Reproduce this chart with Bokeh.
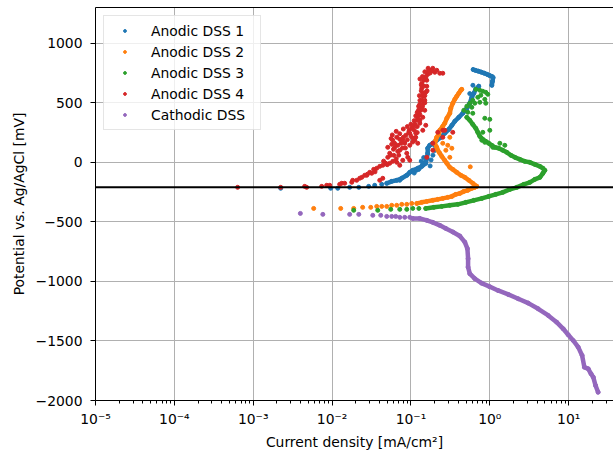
from bokeh.plotting import figure
from bokeh.models import FixedTicker, CustomJSTickFormatter, Span, LogAxis
from bokeh.embed import file_html
from bokeh.resources import INLINE

# ---------------- data ----------------
series_names = ["Anodic DSS 1", "Anodic DSS 2", "Anodic DSS 3", "Anodic DSS 4", "Cathodic DSS"]
series_colors = ["#1f77b4", "#ff7f0e", "#2ca02c", "#d62728", "#9467bd"]
ocp_line_mv = -210

# Anodic DSS 1
dss1_sparse_x = [0.00223, 0.0096, 0.0118, 0.0167, 0.0218, 0.0291, 0.0347, 0.0426]
dss1_sparse_y = [-218, -218, -218, -210, -210, -202, -193, -185]
dss1_dense_x = [0.0493, 0.0570, 0.0660, 0.0764, 0.0885, 0.0966, 0.1054, 0.122, 0.137, 0.154, 0.159,
                0.163, 0.163, 0.173, 0.189, 0.212, 0.239, 0.268, 0.302, 0.330, 0.360, 0.404, 0.454,
                0.511, 0.557, 0.591, 0.627, 0.664, 0.725]
dss1_dense_y = [-176, -160, -151, -134, -109, -84, -67, -50, -34, -8, 34,
                76, 118, 143, 160, 185, 210, 244, 277, 311, 345, 378, 412,
                454, 496, 546, 580, 613, 639]
dss1_top_x = [0.614, 0.66, 0.72, 0.78, 0.85, 0.93, 1.0, 1.07, 1.10, 1.08, 1.06]
dss1_top_y = [779, 772, 765, 757, 748, 738, 728, 720, 712, 680, 647]
dss1_extra_x = [0.14, 0.18, 0.19, 0.20, 0.145, 0.175, 0.20, 0.13, 0.117, 0.072, 0.61, 0.557,
                0.15, 0.135, 0.125, 0.11]
dss1_extra_y = [-20, 20, 60, 100, 40, -30, 140, -45, -67, -151, 647, 577,
                0, 10, -60, -90]

# Anodic DSS 2
dss2_sparse_x = [0.00584, 0.01286, 0.0188, 0.0244, 0.0309, 0.0368, 0.0426, 0.0493, 0.0570,
                 0.0660, 0.0764, 0.0885, 0.1023]
dss2_sparse_y = [-387, -387, -387, -378, -378, -370, -370, -370, -361, -361, -353, -353, -345]
dss2_dense_x = [0.1185, 0.137, 0.159, 0.189, 0.219, 0.253, 0.293, 0.330, 0.371, 0.416, 0.468,
                0.526, 0.591, 0.645, 0.684, 0.608, 0.542, 0.482, 0.429, 0.381, 0.339, 0.311,
                0.285, 0.268, 0.246, 0.232, 0.219, 0.212, 0.200, 0.206, 0.212, 0.225, 0.232,
                0.253, 0.268, 0.285, 0.311, 0.320, 0.339, 0.360, 0.381, 0.404, 0.429, 0.441]
dss2_dense_y = [-345, -336, -328, -319, -311, -303, -294, -286, -269, -261, -244,
                -235, -218, -210, -202, -176, -151, -126, -109, -84, -59, -42,
                -8, 17, 50, 76, 101, 126, 160, 185, 210, 235, 269,
                303, 328, 370, 412, 454, 496, 529, 555, 580, 605, 613]
dss2_extra_x = [0.253, 0.293, 0.330, 0.311, 0.565, 0.277, 0.311]
dss2_extra_y = [160, 143, 118, 42, -38, 101, 210]

# Anodic DSS 3
dss3_sparse_x = [0.0188, 0.0379, 0.0554, 0.0721, 0.0885, 0.1054, 0.126]
dss3_sparse_y = [-403, -403, -395, -395, -395, -387, -387]
dss3_dense_x = [0.154, 0.195, 0.246, 0.311, 0.393, 0.496, 0.627, 0.792, 0.971, 1.19, 1.46,
                1.80, 2.20, 2.70, 3.22, 3.72, 4.31, 4.71, 4.99, 4.71, 4.31, 3.72, 3.22,
                2.78, 2.40, 2.08, 1.85, 1.64, 1.46, 1.30, 1.157, 1.06, 0.971, 0.889,
                0.815, 0.747, 0.704, 0.664, 0.608, 0.557, 0.511]
dss3_dense_y = [-387, -378, -370, -361, -353, -336, -319, -303, -286, -269, -252,
                -227, -210, -185, -168, -143, -126, -92, -67, -50, -34, -17, 0,
                8, 25, 42, 59, 84, 101, 118, 126, 143, 160, 176,
                193, 218, 252, 286, 319, 353, 378]
dss3_extra_x = [0.664, 0.747, 0.815, 0.889, 0.943, 0.769, 0.704, 0.864, 0.608, 0.557, 0.645,
                0.747, 0.511, 0.591, 0.468, 0.526, 0.608, 0.864, 1.0, 0.815, 1.34, 1.55,
                0.889, 1.0, 0.792, 0.864, 1.09]
dss3_extra_y = [613, 605, 597, 588, 571, 563, 546, 529, 521, 496, 496,
                504, 471, 462, 437, 420, 412, 370, 361, 252, 160, 143,
                496, 269, 185, 168, 126]

# Anodic DSS 4
dss4_x = [0.000634, 0.00223, 0.00449, 0.00476, 0.00738, 0.00854, 0.00933, 0.01248, 0.01324,
          0.01445, 0.01774, 0.01825, 0.0205, 0.0224, 0.0238, 0.0259, 0.0275, 0.0300, 0.0318,
          0.0337, 0.0368, 0.0402, 0.0439, 0.0402, 0.0439, 0.0479, 0.0538, 0.0587, 0.0660,
          0.0721, 0.0787, 0.0508, 0.0538, 0.0605, 0.0680, 0.0721, 0.0508, 0.0570, 0.0623,
          0.0587, 0.0660, 0.0721, 0.0787, 0.0834, 0.0885, 0.0911, 0.0966, 0.0859, 0.0938,
          0.0966, 0.1023, 0.1054, 0.1117, 0.1185, 0.1220, 0.1294, 0.1256, 0.1332, 0.1371,
          0.1454, 0.1371, 0.1497, 0.1412, 0.1412, 0.1371, 0.1371, 0.1454, 0.1587, 0.1497,
          0.1634, 0.1634, 0.1733, 0.1892, 0.2005, 0.2125, 0.2318, 0.2533, 0.1412, 0.1497,
          0.1412, 0.1587, 0.1892, 0.1892, 0.2188, 0.2533, 0.2685, 0.2533, 0.3390, 0.1220,
          0.1054, 0.1151, 0.1541, 0.1294, 0.1541, 0.1587, 0.1294, 0.1117, 0.0966, 0.0680,
          0.13, 0.135, 0.145, 0.15, 0.14, 0.13, 0.12, 0.11, 0.10, 0.08, 0.075, 0.06, 0.055,
          0.065, 0.085, 0.09, 0.155, 0.17, 0.185, 0.16, 0.15, 0.125, 0.045, 0.035, 0.028, 0.05,
          0.058, 0.065, 0.072, 0.08, 0.09, 0.062, 0.07, 0.078, 0.056, 0.095, 0.10, 0.11, 0.115,
          0.12, 0.125, 0.13, 0.128, 0.135, 0.14, 0.15, 0.165, 0.175, 0.12, 0.115, 0.105]
dss4_y = [-210, -210, -202, -210, -202, -193, -193, -185, -176,
          -176, -168, -151, -151, -134, -126, -109, -109, -84, -92,
          -59, -50, -151, -134, -34, -25, -8, -8, 8, 0,
          -25, 17, 42, 76, 59, 92, 101, 126, 151, 126,
          185, 210, 193, 185, 160, 76, 42, 17, 227, 252,
          244, 286, 294, 319, 353, 378, 328, 412, 437, 462,
          496, 521, 521, 555, 580, 622, 664, 689, 689, 714,
          739, 756, 773, 790, 756, 773, 748, 748, 378, 437,
          269, 42, 101, 160, 252, 269, 269, 210, 252, 160,
          202, 244, 311, 487, 588, 639, 353, 185, 143, 143,
          700, 600, 640, 560, 470, 400, 300, 270, 220, 210, 160, 110, 60,
          30, 120, 190, 720, 760, 770, 600, 500, 440, 10, -80, -100, -20,
          230, 260, 240, 280, 300, 160, 60, 120, 200, 270, 320, 350, 390,
          420, 470, 520, 560, 650, 720, 760, 790, 750, 250, 210, 170]

# Cathodic DSS
cath_sparse_x = [0.00396, 0.00763, 0.0167, 0.0218, 0.0328, 0.0414, 0.0493, 0.057, 0.064,
                 0.0721, 0.0834, 0.0966]
cath_sparse_y = [-429, -437, -437, -437, -445, -445, -454, -454, -454, -462, -462, -462]
cath_dense_x = [0.1054, 0.129, 0.159, 0.189, 0.232, 0.277, 0.34, 0.416, 0.482, 0.52, 0.53,
                0.53, 0.557, 0.645, 0.784, 0.98, 1.27, 1.71, 2.29, 3.07, 4.10, 5.50, 7.03,
                8.52, 9.85, 11.4, 13.2, 14.8, 15.8, 17.7, 19.2, 20.5, 21.9, 23.6]
cath_dense_y = [-471, -471, -487, -504, -529, -555, -585, -619, -670, -725, -809,
                -880, -935, -977, -1014, -1042, -1076, -1109, -1146, -1182, -1230, -1286, -1342,
                -1398, -1448, -1496, -1552, -1622, -1720, -1734, -1776, -1804, -1874, -1930]

x_major_ticks = [1e-5, 1e-4, 1e-3, 1e-2, 1e-1, 1e0, 1e1]
y_major_ticks = [-2000, -1500, -1000, -500, 0, 500, 1000]

# ---------------- figure ----------------
FONT = "DejaVu Sans"
FS = "13.9px"

p = figure(width=613, height=452, x_axis_type="log", x_range=(1e-5, 37), y_range=(-2000, 1300),
           output_backend="svg", toolbar_location=None,
           min_border_left=95, min_border_right=0, min_border_top=7, min_border_bottom=51)
p.outline_line_color = None
p.background_fill_color = "white"
p.border_fill_color = "white"

SZ = 4
LW = 4.5

def add(dense_segments, scatter_sets, color, label):
    for xs, ys in dense_segments:
        p.line(xs, ys, line_color=color, line_width=LW, line_join="round", line_cap="round")
    allx, ally = [], []
    for xs, ys in scatter_sets:
        allx += list(xs)
        ally += list(ys)
    p.scatter(allx, ally, size=SZ, color=color, legend_label=label)

add([(dss1_dense_x, dss1_dense_y), (dss1_top_x, dss1_top_y)],
    [(dss1_sparse_x, dss1_sparse_y), (dss1_dense_x, dss1_dense_y), (dss1_top_x, dss1_top_y),
     (dss1_extra_x, dss1_extra_y)], series_colors[0], series_names[0])
add([(dss2_dense_x, dss2_dense_y)],
    [(dss2_sparse_x, dss2_sparse_y), (dss2_dense_x, dss2_dense_y), (dss2_extra_x, dss2_extra_y)],
    series_colors[1], series_names[1])
add([(dss3_dense_x, dss3_dense_y)],
    [(dss3_sparse_x, dss3_sparse_y), (dss3_dense_x, dss3_dense_y), (dss3_extra_x, dss3_extra_y)],
    series_colors[2], series_names[2])
add([], [(dss4_x, dss4_y)], series_colors[3], series_names[3])
add([(cath_dense_x, cath_dense_y)],
    [(cath_sparse_x, cath_sparse_y), (cath_dense_x, cath_dense_y)],
    series_colors[4], series_names[4])

p.add_layout(Span(location=ocp_line_mv, dimension="width", line_color="black", line_width=2))

# axes
xminor = [m * d for d in x_major_ticks[:-1] + [10.0] for m in range(2, 10)]
p.xaxis.ticker = FixedTicker(ticks=x_major_ticks, minor_ticks=xminor)
p.xaxis.formatter = CustomJSTickFormatter(code="""
const e = Math.round(Math.log10(tick));
const sup = {"-": "\\u207b", "0": "\\u2070", "1": "\\u00b9", "2": "\\u00b2", "3": "\\u00b3",
             "4": "\\u2074", "5": "\\u2075", "6": "\\u2076", "7": "\\u2077", "8": "\\u2078", "9": "\\u2079"};
return "10" + String(e).split("").map(c => sup[c]).join("");
""")
p.yaxis.ticker = FixedTicker(ticks=y_major_ticks)
p.yaxis.formatter = CustomJSTickFormatter(code="return tick < 0 ? '\\u2212' + Math.abs(tick) : String(tick);")

p.xaxis.axis_label = "Current density [mA/cm²]"
p.yaxis.axis_label = "Potential vs. Ag/AgCl [mV]"

for ax in (p.xaxis[0], p.yaxis[0]):
    ax.axis_line_color = "black"
    ax.axis_line_width = 1
    ax.major_tick_line_color = "black"
    ax.major_tick_out = 5
    ax.major_tick_in = 0
    ax.minor_tick_line_color = "black"
    ax.minor_tick_out = 3
    ax.minor_tick_in = 0
    ax.major_label_text_font = FONT
    ax.major_label_text_font_size = FS
    ax.major_label_text_color = "black"
    ax.axis_label_text_font = FONT
    ax.axis_label_text_font_size = FS
    ax.axis_label_text_font_style = "normal"
    ax.axis_label_text_color = "black"
p.yaxis.minor_tick_line_color = None
p.yaxis.major_label_standoff = 8
p.yaxis.axis_label_standoff = 6
p.xaxis.major_label_standoff = 5
p.xaxis.axis_label_standoff = 4

top = LogAxis(ticker=FixedTicker(ticks=[]), major_tick_line_color=None, minor_tick_line_color=None,
              major_label_text_font_size="0px", axis_line_color="black")
p.add_layout(top, "above")

p.xgrid.grid_line_color = "#b0b0b0"
p.ygrid.grid_line_color = "#b0b0b0"
p.xgrid.grid_line_width = 1
p.ygrid.grid_line_width = 1

lg = p.legend[0]
lg.location = "top_left"
lg.margin = 8
lg.padding = 4
lg.spacing = 0
lg.glyph_width = 33
lg.glyph_height = 7
lg.label_height = 21
lg.label_width = 105
lg.label_standoff = 10
lg.label_text_font = FONT
lg.label_text_font_size = FS
lg.label_text_color = "black"
lg.border_line_color = "#cccccc"
lg.border_line_width = 1
lg.background_fill_alpha = 0.8

open("out.html", "w").write(file_html(p, INLINE))
